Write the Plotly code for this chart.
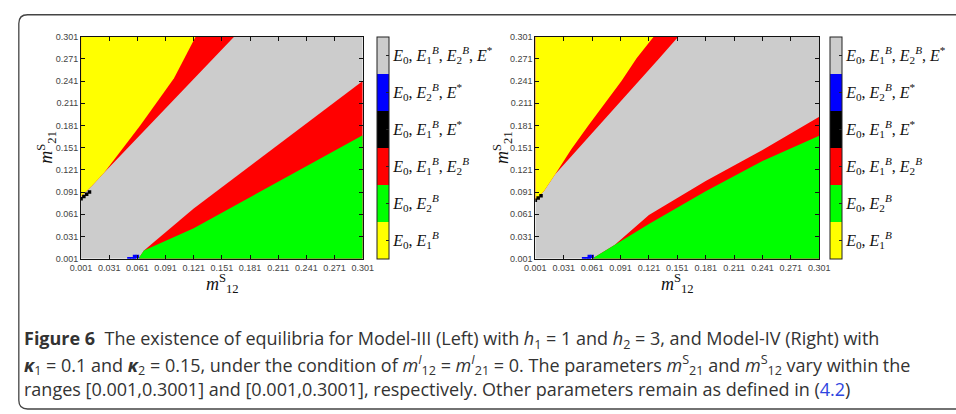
import plotly.graph_objects as go

W, H = 956, 414

# ---------------- data ----------------
tick_vals = [0.001, 0.031, 0.061, 0.091, 0.121, 0.151, 0.181, 0.211, 0.241, 0.271, 0.301]
tick_text = ["0.001", "0.031", "0.061", "0.091", "0.121", "0.151", "0.181", "0.211", "0.241", "0.271", "0.301"]

# categories (bottom -> top of the colour bar)
cat_codes = [1, 2, 3, 4, 5, 6]
cat_labels = [
    "<i>E</i><sub>0</sub>, <i>E</i><sub>1</sub><sup><i>B</i></sup>",
    "<i>E</i><sub>0</sub>, <i>E</i><sub>2</sub><sup><i>B</i></sup>",
    "<i>E</i><sub>0</sub>, <i>E</i><sub>1</sub><sup><i>B</i></sup>, <i>E</i><sub>2</sub><sup><i>B</i></sup>",
    "<i>E</i><sub>0</sub>, <i>E</i><sub>1</sub><sup><i>B</i></sup>, <i>E</i><sup>*</sup>",
    "<i>E</i><sub>0</sub>, <i>E</i><sub>2</sub><sup><i>B</i></sup>, <i>E</i><sup>*</sup>",
    "<i>E</i><sub>0</sub>, <i>E</i><sub>1</sub><sup><i>B</i></sup>, <i>E</i><sub>2</sub><sup><i>B</i></sup>, <i>E</i><sup>*</sup>",
]
cat_colors = ["#ffff00", "#00ff00", "#ff0000", "#000000", "#0000ff", "#cccccc"]

# ---- Model-III (left) region boundaries (m12S, m21S) ----
L_yellow_edge_x = [0.001, 0.013, 0.026, 0.046, 0.064, 0.081, 0.100, 0.123]
L_yellow_edge_y = [0.085, 0.100, 0.118, 0.151, 0.181, 0.211, 0.245, 0.301]
L_upper_gray_edge_x = [0.001, 0.013, 0.026, 0.051, 0.073, 0.096, 0.119, 0.164]
L_upper_gray_edge_y = [0.085, 0.100, 0.118, 0.151, 0.181, 0.211, 0.241, 0.301]
L_lower_gray_edge_x = [0.062, 0.068, 0.121, 0.181, 0.241, 0.301]
L_lower_gray_edge_y = [0.001, 0.012, 0.069, 0.126, 0.183, 0.241]
L_green_edge_x = [0.062, 0.068, 0.121, 0.181, 0.241, 0.301]
L_green_edge_y = [0.001, 0.012, 0.042, 0.084, 0.126, 0.168]
L_black_x = [0.001, 0.004, 0.007, 0.010]
L_black_y = [0.082, 0.085, 0.088, 0.091]
L_blue_x = [0.052, 0.055, 0.058, 0.058, 0.061]
L_blue_y = [0.001, 0.001, 0.001, 0.004, 0.004]

# ---- Model-IV (right) region boundaries ----
R_yellow_edge_x = [0.001, 0.010, 0.022, 0.039, 0.057, 0.075, 0.092, 0.108, 0.126]
R_yellow_edge_y = [0.080, 0.092, 0.115, 0.149, 0.181, 0.211, 0.241, 0.272, 0.301]
R_upper_gray_edge_x = [0.001, 0.010, 0.022, 0.046, 0.068, 0.089, 0.110, 0.132, 0.152]
R_upper_gray_edge_y = [0.080, 0.092, 0.115, 0.149, 0.181, 0.211, 0.241, 0.272, 0.301]
R_lower_gray_edge_x = [0.061, 0.085, 0.121, 0.181, 0.241, 0.301]
R_lower_gray_edge_y = [0.001, 0.020, 0.060, 0.106, 0.148, 0.193]
R_green_edge_x = [0.061, 0.085, 0.121, 0.181, 0.241, 0.301]
R_green_edge_y = [0.001, 0.020, 0.048, 0.092, 0.133, 0.167]
R_black_x = [0.001, 0.004, 0.007]
R_black_y = [0.080, 0.083, 0.086]
R_blue_x = [0.052, 0.055, 0.058, 0.058, 0.061]
R_blue_y = [0.001, 0.001, 0.001, 0.004, 0.004]

XMIN, XMAX = 0.001, 0.301

# ---------------- figure ----------------
fig = go.Figure()


def poly(xs, ys, color, xa, ya):
    fig.add_trace(go.Scatter(x=xs, y=ys, fill="toself", fillcolor=color, mode="lines",
                             line=dict(width=0, color=color), hoverinfo="skip",
                             showlegend=False, xaxis=xa, yaxis=ya))


def panel(xa, ya, ye_x, ye_y, ug_x, ug_y, lg_x, lg_y, gr_x, gr_y, bk_x, bk_y, bl_x, bl_y):
    gray, red, yellow, green = cat_colors[5], cat_colors[2], cat_colors[0], cat_colors[1]
    poly([XMIN, XMAX, XMAX, XMIN, XMIN], [XMIN, XMIN, XMAX, XMAX, XMIN], gray, xa, ya)
    poly(ug_x + [XMIN], ug_y + [XMAX], red, xa, ya)
    poly(ye_x + [XMIN], ye_y + [XMAX], yellow, xa, ya)
    poly(lg_x + [XMAX], lg_y + [XMIN], red, xa, ya)
    poly(gr_x + [XMAX], gr_y + [XMIN], green, xa, ya)
    fig.add_trace(go.Scatter(x=bk_x, y=bk_y, mode="markers",
                             marker=dict(symbol="square", size=3.5, color=cat_colors[3]),
                             hoverinfo="skip", showlegend=False, xaxis=xa, yaxis=ya))
    fig.add_trace(go.Scatter(x=bl_x, y=bl_y, mode="markers",
                             marker=dict(symbol="square", size=3.5, color=cat_colors[4]),
                             hoverinfo="skip", showlegend=False, xaxis=xa, yaxis=ya))


panel("x", "y", L_yellow_edge_x, L_yellow_edge_y, L_upper_gray_edge_x, L_upper_gray_edge_y,
      L_lower_gray_edge_x, L_lower_gray_edge_y, L_green_edge_x, L_green_edge_y,
      L_black_x, L_black_y, L_blue_x, L_blue_y)
panel("x2", "y2", R_yellow_edge_x, R_yellow_edge_y, R_upper_gray_edge_x, R_upper_gray_edge_y,
      R_lower_gray_edge_x, R_lower_gray_edge_y, R_green_edge_x, R_green_edge_y,
      R_black_x, R_black_y, R_blue_x, R_blue_y)

n = len(cat_codes)
cscale = []
for i, c in enumerate(cat_colors):
    cscale.append([i / n, c])
    cscale.append([(i + 1) / n, c])


def px2fx(px):
    return px / W


def px2fy(py):
    return 1 - py / H


top_px, bot_px = 32.5, 260
for xa, ya, cbx in [("x", "y", 374.5), ("x2", "y2", 838.5)]:
    fig.add_trace(go.Heatmap(
        z=[[c] for c in cat_codes], x=[10], y=[10 + i for i in range(n)],
        zmin=0.5, zmax=n + 0.5, colorscale=cscale, hoverinfo="skip",
        xaxis=xa, yaxis=ya, showscale=True,
        colorbar=dict(
            x=px2fx(cbx), xanchor="left", xpad=0, ypad=0,
            y=px2fy((top_px + bot_px) / 2), yanchor="middle",
            len=(bot_px - top_px) / H, lenmode="fraction",
            thickness=12, outlinewidth=1, outlinecolor="#222",
            tickvals=cat_codes, ticktext=cat_labels, ticks="inside", ticklen=3,
            tickcolor="#222",
            tickfont=dict(family="Liberation Serif", size=16, color="#111"),
        ),
    ))

axis_common = dict(
    range=[XMIN, XMAX], tickvals=tick_vals, ticktext=tick_text, ticks="inside", ticklen=4,
    tickcolor="#111", showline=True, linecolor="#111", linewidth=1, mirror="ticks",
    showgrid=False, zeroline=False, fixedrange=True,
    tickfont=dict(family="Liberation Sans", size=9, color="#444"),
)

ydom = [px2fy(bot_px), px2fy(top_px)]
fig.update_layout(
    width=W, height=H, margin=dict(l=0, r=0, t=0, b=0),
    paper_bgcolor="white", plot_bgcolor="white",
    xaxis=dict(domain=[px2fx(71.7), px2fx(360)], anchor="y", **axis_common),
    yaxis=dict(domain=ydom, anchor="x", **axis_common),
    xaxis2=dict(domain=[px2fx(536.7), px2fx(827.3)], anchor="y2", **axis_common),
    yaxis2=dict(domain=ydom, anchor="x2", **axis_common),
)

anns = []
mfont = dict(family="Liberation Serif", size=18, color="#111")
for cx, cy_x, ty_x in [(216, 285, 36), (682, 285, 503)]:
    anns.append(dict(x=px2fx(cx), y=px2fy(cy_x), xref="paper", yref="paper",
                     text="<i>m</i><sup>S</sup><sub>12</sub>", showarrow=False,
                     font=mfont, xanchor="center", yanchor="middle"))
    anns.append(dict(x=px2fx(ty_x), y=px2fy(146), xref="paper", yref="paper",
                     text="<i>m</i><sup>S</sup><sub>21</sub>", showarrow=False, textangle=-90,
                     font=mfont, xanchor="center", yanchor="middle"))

cap_font = dict(family="Open Sans", size=18, color="#333")
caption_lines = [
    "<b>Figure 6</b>  The existence of equilibria for Model-III (Left) with <i>h</i><sub>1</sub> = 1 and <i>h</i><sub>2</sub> = 3, and Model-IV (Right) with",
    "<b><i>κ</i></b><sub>1</sub> = 0.1 and <b><i>κ</i></b><sub>2</sub> = 0.15, under the condition of <i>m</i><sup><i>I</i></sup><sub>12</sub> = <i>m</i><sup><i>I</i></sup><sub>21</sub> = 0. The parameters <i>m</i><sup>S</sup><sub>21</sub> and <i>m</i><sup>S</sup><sub>12</sub> vary within the",
    "ranges [0.001,0.3001] and [0.001,0.3001], respectively. Other parameters remain as defined in (<span style='color:#2f46e0'>4.2</span>)",
]
for line, cy in zip(caption_lines, [343, 369, 393]):
    anns.append(dict(x=px2fx(11), y=px2fy(cy), xref="paper", yref="paper",
                     text=line, showarrow=False, font=cap_font,
                     xanchor="left", yanchor="middle", align="left"))
fig.update_layout(annotations=anns)

x0, y0, x1, y1, r = 8, 10, 975, 414, 9
path = (f"M {px2fx(x1)},{px2fy(y0)} L {px2fx(x0 + r)},{px2fy(y0)} "
        f"Q {px2fx(x0)},{px2fy(y0)} {px2fx(x0)},{px2fy(y0 + r)} "
        f"L {px2fx(x0)},{px2fy(y1 - r)} Q {px2fx(x0)},{px2fy(y1)} {px2fx(x0 + r)},{px2fy(y1)} "
        f"L {px2fx(x1)},{px2fy(y1)}")
fig.add_shape(type="path", path=path, xref="paper", yref="paper",
              line=dict(color="#444", width=1.3))

fig.write_html("out.html")
